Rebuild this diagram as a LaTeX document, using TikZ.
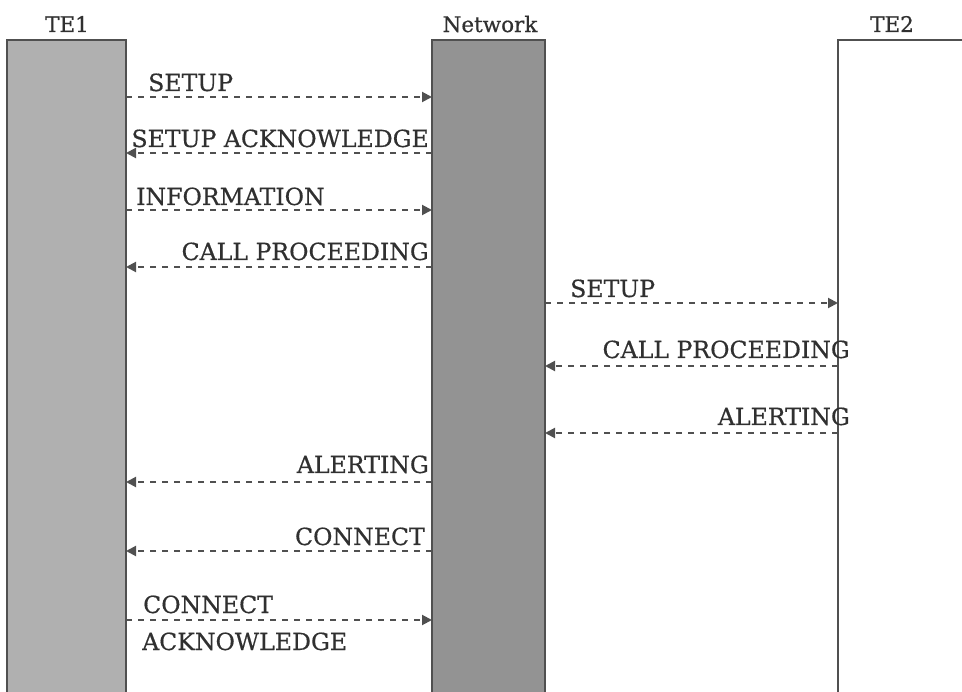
\documentclass[tikz,border=0pt]{standalone}
\usepackage{fontspec}
\setmainfont[FakeBold=0.5]{DejaVu Serif}
\usetikzlibrary{arrows.meta}
\definecolor{linegray}{HTML}{505050}
\definecolor{textgray}{HTML}{303030}
\definecolor{fillA}{HTML}{B0B0B0}
\definecolor{fillB}{HTML}{939393}
\begin{document}
\begin{tikzpicture}[x=1pt,y=-1pt,
  lane/.style={draw=linegray, line width=1.6pt, anchor=north west, inner sep=0pt, outer sep=0pt},
  head/.style={font=\fontsize{21.5}{24}\selectfont, text=textgray, inner sep=0pt},
  lbl/.style={font=\fontsize{23.6}{26}\selectfont, text=textgray, inner sep=0pt},
  msg/.style={draw=linegray, line width=2pt, dash pattern=on 6pt off 6pt, -{Triangle[length=10pt,width=10pt]}}
]
\useasboundingbox (0,0) rectangle (962,692);
\clip (0,0) rectangle (962,692);
\fill[white] (0,0) rectangle (962,692);
% lanes
\node[lane, fill=fillA, minimum width=119pt, minimum height=680pt] (te1) at (7,40) {};
\node[lane, fill=fillB, minimum width=113pt, minimum height=680pt] (net) at (432,40) {};
\node[lane, fill=white, minimum width=160pt, minimum height=680pt] (te2) at (838,40) {};
% headers
\node[head] (h1) at (67,24) {TE1};
\node[head] (h2) at (490,24) {Network};
\node[head] (h3) at (892,24) {TE2};
% message rows
\coordinate (y1) at (0,97);
\coordinate (y2) at (0,153);
\coordinate (y3) at (0,210);
\coordinate (y4) at (0,267);
\coordinate (y5) at (0,303);
\coordinate (y6) at (0,366);
\coordinate (y7) at (0,433);
\coordinate (y8) at (0,482);
\coordinate (y9) at (0,551);
\coordinate (y10) at (0,620);
\draw[msg] (te1.east |- y1) -- (net.west |- y1);
\draw[msg] (net.west |- y2) -- (te1.east |- y2);
\draw[msg] (te1.east |- y3) -- (net.west |- y3);
\draw[msg] (net.west |- y4) -- (te1.east |- y4);
\draw[msg] (net.east |- y5) -- (te2.west |- y5);
\draw[msg] (te2.west |- y6) -- (net.east |- y6);
\draw[msg] (te2.west |- y7) -- (net.east |- y7);
\draw[msg] (net.west |- y8) -- (te1.east |- y8);
\draw[msg] (net.west |- y9) -- (te1.east |- y9);
\draw[msg] (te1.east |- y10) -- (net.west |- y10);
% labels
\node[lbl, anchor=base west] (l1) at (148,91) {SETUP};
\node[lbl, anchor=base east] (l2) at (429,147) {SETUP ACKNOWLEDGE};
\node[lbl, anchor=base west] (l3) at (136,205) {INFORMATION};
\node[lbl, anchor=base east] (l4) at (429,260) {CALL PROCEEDING};
\node[lbl, anchor=base west] (l5) at (570,297) {SETUP};
\node[lbl, anchor=base east] (l6) at (850,358) {CALL PROCEEDING};
\node[lbl, anchor=base east] (l7) at (850,425) {ALERTING};
\node[lbl, anchor=base east] (l8) at (429,473) {ALERTING};
\node[lbl, anchor=base east] (l9) at (425,545) {CONNECT};
\node[lbl, anchor=base west] (l10) at (143,613) {CONNECT};
\node[lbl, anchor=base west] (l11) at (142,650) {ACKNOWLEDGE};
\end{tikzpicture}
\end{document}
